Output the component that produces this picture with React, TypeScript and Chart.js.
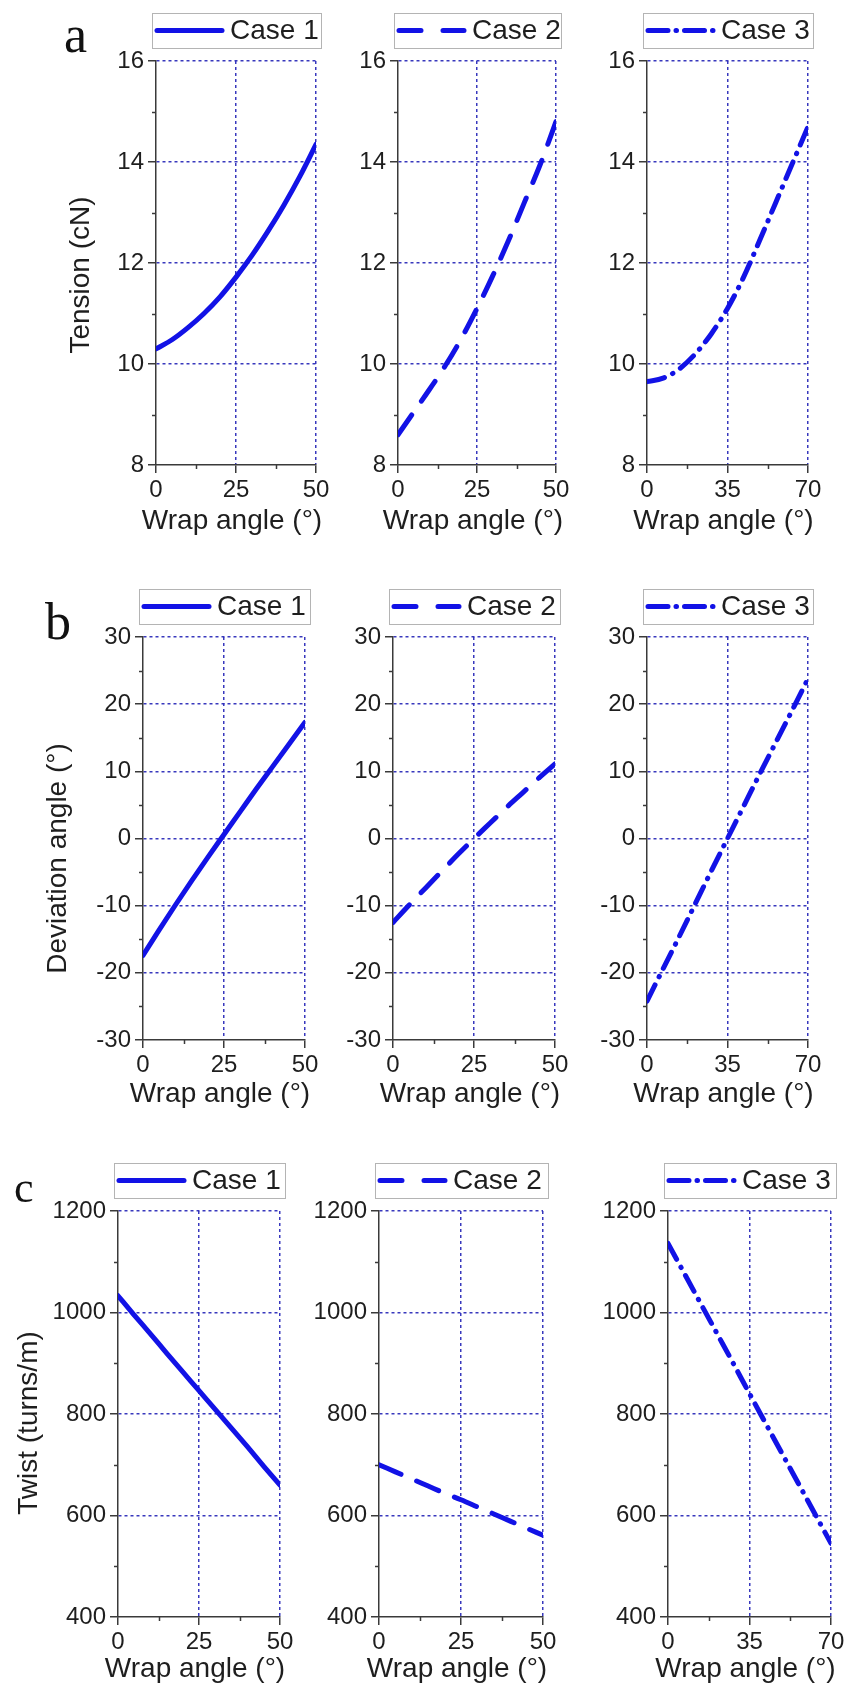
import React, { useEffect, useRef } from 'react';
import { Chart, registerables } from 'chart.js';

Chart.register(...registerables);

// ---------- data ----------
const wrapAngle50 = [0, 5, 10, 15, 20, 25, 30, 35, 40, 45, 50];
const wrapAngle70 = [0, 7, 14, 21, 28, 35, 42, 49, 56, 63, 70];

const tensionCase1 = [10.3, 10.48, 10.72, 11.0, 11.33, 11.72, 12.15, 12.63, 13.15, 13.72, 14.35];
const tensionCase2 = [8.6, 9.05, 9.5, 9.97, 10.5, 11.1, 11.75, 12.45, 13.2, 13.95, 14.8];
const tensionCase3 = [9.65, 9.72, 9.9, 10.2, 10.6, 11.1, 11.72, 12.45, 13.2, 13.95, 14.7];

const deviationCase1 = [-17.4, -13.6, -9.9, -6.3, -2.8, 0.6, 4.0, 7.4, 10.7, 14.0, 17.3];
const deviationCase2 = [-12.5, -9.9, -7.4, -4.9, -2.4, 0.0, 2.3, 4.6, 6.8, 9.0, 11.1];
const deviationCase3 = [-24.2, -19.4, -14.6, -9.7, -4.8, 0.0, 4.8, 9.6, 14.3, 19.0, 23.8];

const twistCase1 = [1033, 995, 958, 920, 883, 846, 809, 772, 735, 697, 660];
const twistCase2 = [700, 686, 672, 658, 644, 631, 617, 603, 589, 575, 561];
const twistCase3 = [1136, 1077, 1018, 959, 900, 840, 781, 722, 663, 604, 545];

const caseLabels = ['Case 1', 'Case 2', 'Case 3'];
const wrapTicks50 = [0, 25, 50];
const wrapTicks70 = [0, 35, 70];
const tensionTicks = [8, 10, 12, 14, 16];
const deviationTicks = [-30, -20, -10, 0, 10, 20, 30];
const twistTicks = [400, 600, 800, 1000, 1200];

const xTitle = 'Wrap angle (°)';
const yTitles = ['Tension (cN)', 'Deviation angle (°)', 'Twist (turns/m)'];
const panelLetters = ['a', 'b', 'c'];

// ---------- style ----------
const FONT = '"Liberation Sans", Arial, sans-serif';
const LINE = '#1212e6';
const GRID = 'rgba(45,45,185,0.95)';
const AXIS = '#3a3a3a';
const TEXT = '#1e1e1e';
const CLEAR = 'rgba(0,0,0,0)';
const T = 55;
const R = 22;

const lineDashes: number[][] = [[], [24, 17], [18, 9, 0.5, 9]];
const legendDashes: number[][] = [[], [22, 22], [20, 8, 0.5, 8]];

Chart.defaults.font.family = FONT;

type Panel = {
  label: string;
  xs: number[];
  ys: number[];
  xTicks: number[];
  yTicks: number[];
  dash: number[];
  legendDash: number[];
  yTitle: string | null;
  yGap: number;
  yShift: number;
  xGap: number;
  plotLeft: number;
  plotRight: number;
  plotTop: number;
  plotBottom: number;
  L: number;
  B: number;
};

const rows = [
  { top: 61, bottom: 465, xGap: 56, yGap: 75, yShift: 12, cols: [[156, 316], [398, 556], [647, 808]], yTicks: tensionTicks, series: [tensionCase1, tensionCase2, tensionCase3] },
  { top: 637, bottom: 1040, xGap: 54, yGap: 85, yShift: 20, cols: [[143, 305], [393, 555], [647, 808]], yTicks: deviationTicks, series: [deviationCase1, deviationCase2, deviationCase3] },
  { top: 1211, bottom: 1617, xGap: 52, yGap: 89, yShift: 9, cols: [[118, 280], [379, 543], [668, 831]], yTicks: twistTicks, series: [twistCase1, twistCase2, twistCase3] },
];

const letterPos = [
  { left: 64, top: 9, size: 52 },
  { left: 45, top: 596, size: 52 },
  { left: 14, top: 1166, size: 44 },
];

function withMinors(majors: number[]): number[] {
  const out: number[] = [];
  for (let i = 0; i < majors.length; i++) {
    out.push(majors[i]);
    if (i < majors.length - 1) out.push((majors[i] + majors[i + 1]) / 2);
  }
  return out;
}

const isIn = (arr: number[], v: number) => arr.some((a) => Math.abs(a - v) < 1e-9);

const caseLegend = {
  id: 'caseLegend',
  afterDraw(chart: any, _args: any, opts: any) {
    const { ctx, chartArea } = chart;
    const ds = chart.data.datasets[0];
    const x0 = chartArea.left - 4;
    const x1 = chartArea.right + 5;
    const y0 = chartArea.top - 48;
    const y1 = chartArea.top - 13;
    const ym = (y0 + y1) / 2;
    ctx.save();
    ctx.strokeStyle = '#b4b4b4';
    ctx.lineWidth = 1;
    ctx.setLineDash([]);
    ctx.strokeRect(Math.round(x0) + 0.5, Math.round(y0) + 0.5, Math.round(x1 - x0), Math.round(y1 - y0));
    ctx.strokeStyle = ds.borderColor;
    ctx.lineWidth = ds.borderWidth;
    ctx.lineCap = 'round';
    ctx.setLineDash(opts.dash || []);
    ctx.beginPath();
    ctx.moveTo(x0 + 5, ym);
    ctx.lineTo(x0 + 70, ym);
    ctx.stroke();
    ctx.setLineDash([]);
    ctx.fillStyle = TEXT;
    ctx.font = `28px ${FONT}`;
    ctx.textBaseline = 'middle';
    ctx.textAlign = 'left';
    ctx.fillText(ds.label, x0 + 78, ym + 1);
    ctx.restore();
  },
};

const axisTitles = {
  id: 'axisTitles',
  afterDraw(chart: any, _args: any, opts: any) {
    const { ctx, chartArea } = chart;
    ctx.save();
    ctx.fillStyle = TEXT;
    ctx.font = `28px ${FONT}`;
    ctx.textAlign = 'center';
    ctx.textBaseline = 'middle';
    ctx.fillText(opts.xText, (chartArea.left + chartArea.right) / 2 - 4, chartArea.bottom + opts.xGap);
    if (opts.yText) {
      ctx.translate(chartArea.left - opts.yGap, (chartArea.top + chartArea.bottom) / 2 + opts.yShift);
      ctx.rotate(-Math.PI / 2);
      ctx.fillText(opts.yText, 0, 0);
    }
    ctx.restore();
  },
};

const minorTicks = {
  id: 'minorTicks',
  afterDraw(chart: any, _args: any, opts: any) {
    const { ctx, chartArea, scales } = chart;
    ctx.save();
    ctx.strokeStyle = AXIS;
    ctx.lineWidth = 1.5;
    ctx.setLineDash([]);
    for (const t of scales.x.ticks) {
      if (isIn(opts.xMajors, t.value)) continue;
      const px = Math.round(scales.x.getPixelForValue(t.value)) + 0.5;
      ctx.beginPath();
      ctx.moveTo(px, chartArea.bottom);
      ctx.lineTo(px, chartArea.bottom + 4);
      ctx.stroke();
    }
    for (const t of scales.y.ticks) {
      if (isIn(opts.yMajors, t.value)) continue;
      const py = Math.round(scales.y.getPixelForValue(t.value)) + 0.5;
      ctx.beginPath();
      ctx.moveTo(chartArea.left - 4, py);
      ctx.lineTo(chartArea.left, py);
      ctx.stroke();
    }
    ctx.restore();
  },
};

function buildConfig(p: Panel): any {
  const xAll = withMinors(p.xTicks);
  const yAll = withMinors(p.yTicks);
  const xMin = p.xTicks[0];
  const xMax = p.xTicks[p.xTicks.length - 1];
  const yMin = p.yTicks[0];
  const yMax = p.yTicks[p.yTicks.length - 1];
  const gridColor = (majors: number[], minV: number) => (c: any) => {
    const v = c.tick ? c.tick.value : NaN;
    if (!isIn(majors, v) || Math.abs(v - minV) < 1e-9) return CLEAR;
    return GRID;
  };
  const tickColor = (majors: number[]) => (c: any) => (c.tick && isIn(majors, c.tick.value) ? AXIS : CLEAR);
  const resetPad = (s: any) => {
    s.paddingLeft = 0;
    s.paddingRight = 0;
    s.paddingTop = 0;
    s.paddingBottom = 0;
  };
  return {
    type: 'line',
    data: {
      datasets: [
        {
          label: p.label,
          data: p.xs.map((x, i) => ({ x, y: p.ys[i] })),
          borderColor: LINE,
          borderWidth: 5,
          borderDash: p.dash,
          borderCapStyle: 'round',
          borderJoinStyle: 'round',
          pointRadius: 0,
          cubicInterpolationMode: 'monotone',
          fill: false,
        },
      ],
    },
    options: {
      responsive: false,
      animation: false,
      devicePixelRatio: 1,
      events: [],
      layout: { padding: { left: 0, right: R, top: T, bottom: 0 } },
      plugins: {
        legend: { display: false },
        tooltip: { enabled: false },
        caseLegend: { dash: p.legendDash },
        minorTicks: { xMajors: p.xTicks, yMajors: p.yTicks },
        axisTitles: { xText: xTitle, xGap: p.xGap, yText: p.yTitle, yGap: p.yGap, yShift: p.yShift },
      },
      scales: {
        x: {
          type: 'linear',
          min: xMin,
          max: xMax,
          afterBuildTicks: (s: any) => {
            s.ticks = xAll.map((v) => ({ value: v }));
          },
          afterFit: (s: any) => {
            s.height = p.B;
            resetPad(s);
          },
          ticks: {
            autoSkip: false,
            maxRotation: 0,
            minRotation: 0,
            padding: 3,
            font: { size: 24, family: FONT },
            color: TEXT,
            callback: (v: number) => (isIn(p.xTicks, v) ? String(v) : ''),
          },
          grid: {
            color: gridColor(p.xTicks, xMin),
            tickColor: tickColor(p.xTicks),
            tickLength: 8,
            tickWidth: 1.5,
            lineWidth: 1.5,
          },
          border: { display: true, color: AXIS, width: 1.5, dash: [3, 3] },
          title: { display: false },
        },
        y: {
          type: 'linear',
          min: yMin,
          max: yMax,
          afterBuildTicks: (s: any) => {
            s.ticks = yAll.map((v) => ({ value: v }));
          },
          afterFit: (s: any) => {
            s.width = p.L;
            resetPad(s);
          },
          ticks: {
            autoSkip: false,
            padding: 4,
            font: { size: 24, family: FONT },
            color: TEXT,
            callback: (v: number) => (isIn(p.yTicks, v) ? String(v) : ''),
          },
          grid: {
            color: gridColor(p.yTicks, yMin),
            tickColor: tickColor(p.yTicks),
            tickLength: 8,
            tickWidth: 1.5,
            lineWidth: 1.5,
          },
          border: { display: true, color: AXIS, width: 1.5, dash: [3, 3] },
          title: { display: false },
        },
      },
    },
    plugins: [caseLegend, minorTicks, axisTitles],
  };
}

function buildPanels(): Panel[] {
  const panels: Panel[] = [];
  rows.forEach((row, r) => {
    row.cols.forEach((col, c) => {
      const isWide = c === 2;
      const L = c === 0 ? row.yGap + 22 : 72;
      panels.push({
        label: caseLabels[c],
        xs: isWide ? wrapAngle70 : wrapAngle50,
        ys: row.series[c],
        xTicks: isWide ? wrapTicks70 : wrapTicks50,
        yTicks: row.yTicks,
        dash: lineDashes[c],
        legendDash: legendDashes[c],
        yTitle: c === 0 ? yTitles[r] : null,
        yGap: row.yGap,
        yShift: row.yShift,
        xGap: row.xGap,
        plotLeft: col[0],
        plotRight: col[1],
        plotTop: row.top,
        plotBottom: row.bottom,
        L,
        B: row.xGap + 22,
      });
    });
  });
  return panels;
}

function ChartPanel({ p }: { p: Panel }) {
  const ref = useRef<HTMLCanvasElement | null>(null);
  const w = p.L + (p.plotRight - p.plotLeft) + R;
  const h = T + (p.plotBottom - p.plotTop) + p.B;
  const left = p.plotLeft - p.L;
  const top = p.plotTop - T;
  useEffect(() => {
    if (!ref.current) return;
    const chart = new Chart(ref.current, buildConfig(p));
    return () => chart.destroy();
  }, []);
  return (
    <canvas
      ref={ref}
      width={w}
      height={h}
      style={{ position: 'absolute', left, top, width: w, height: h }}
    />
  );
}

export default function App() {
  const panels = buildPanels();
  return (
    <div style={{ position: 'absolute', left: 0, top: 0, width: 847, height: 1689, background: '#fff', overflow: 'hidden' }}>
      {panels.map((p, i) => (
        <ChartPanel key={i} p={p} />
      ))}
      {panelLetters.map((t, i) => (
        <span
          key={t}
          style={{
            position: 'absolute',
            left: letterPos[i].left,
            top: letterPos[i].top,
            fontFamily: '"Liberation Serif", "Times New Roman", serif',
            fontSize: letterPos[i].size,
            lineHeight: 1,
            color: '#111',
          }}
        >
          {t}
        </span>
      ))}
    </div>
  );
}
